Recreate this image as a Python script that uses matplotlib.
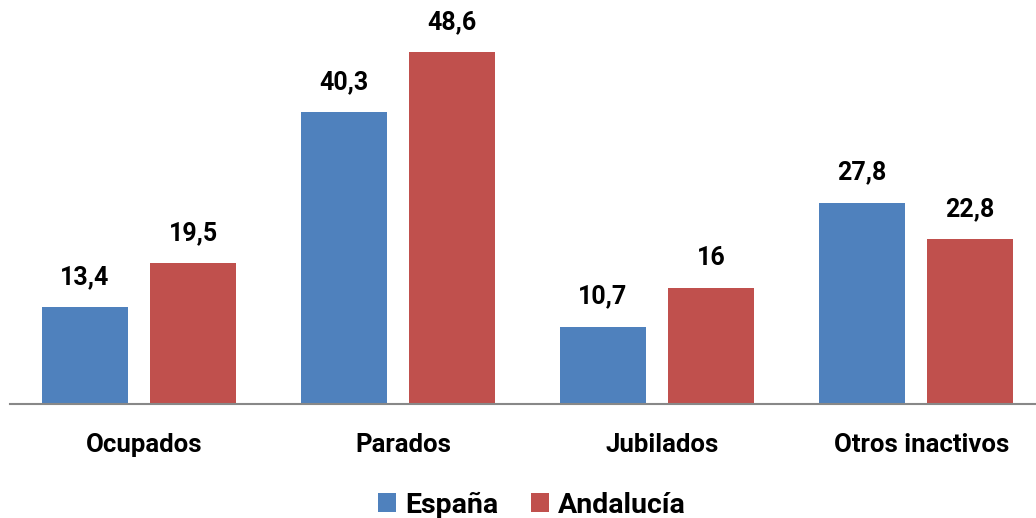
import matplotlib
matplotlib.use("Agg")
from matplotlib import pyplot as plt
from matplotlib.patches import Patch
import numpy as np

categories = ["Ocupados", "Parados", "Jubilados", "Otros inactivos"]
espana = [13.4, 40.3, 10.7, 27.8]
andalucia = [19.5, 48.6, 16, 22.8]
series_names = ["España", "Andalucía"]
series_colors = ["#4F81BD", "#C0504D"]

plt.rcParams['font.family'] = ['Roboto', 'DejaVu Sans']

W, H = 1036, 518
fig = plt.figure(figsize=(W / 100, H / 100), dpi=100)
# axes: baseline at y=404 px, top of figure, from x=10 px to the right edge
ax = fig.add_axes([10 / W, (H - 404) / H, 1 - 10 / W, 404 / H])

x = np.arange(len(categories))
width = 0.332
offset = 0.2085

def fmt(v):
    s = f"{v:g}"
    return s.replace(".", ",")

for vals, off, col in [(espana, -offset, series_colors[0]), (andalucia, offset, series_colors[1])]:
    bars = ax.bar(x + off, vals, width=width, color=col, edgecolor="none")
    for b, v in zip(bars, vals):
        ax.annotate(fmt(v), (b.get_x() + b.get_width() / 2, v), xytext=(0, 13),
                    textcoords="offset points", ha="center", va="bottom",
                    fontsize=18, fontweight="bold", color="black")

ax.set_xlim(-0.498, 3.463)
ax.set_ylim(0, 55.8)
for s in ["top", "right", "left"]:
    ax.spines[s].set_visible(False)
ax.spines["bottom"].set_color("#888888")
ax.spines["bottom"].set_linewidth(1.5)
ax.set_yticks([])
ax.set_xticks(x + 0.02)
ax.set_xticklabels(categories, fontsize=18.5, fontweight="bold")
ax.tick_params(axis="x", length=0, pad=21)

handles = [Patch(facecolor=c, edgecolor="none") for c in series_colors]
fig.legend(handles, series_names, loc="center", bbox_to_anchor=(532 / W, (H - 505) / H),
           ncol=2, frameon=False, prop={"size": 20.5, "weight": "bold"},
           handlelength=0.63, handleheight=0.63, handletextpad=0.32, columnspacing=1.15)

fig.savefig("out.png", dpi=100)
